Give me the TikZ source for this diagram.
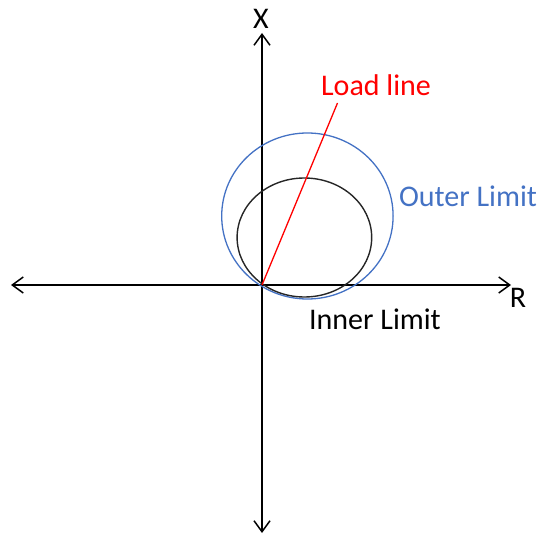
\documentclass[tikz,border=0pt]{standalone}
\usepackage{fontspec}
\setmainfont{Carlito}
\usepackage{xcolor}
\usepackage{tikz}
\usetikzlibrary{
  arrows.meta,
  positioning
}
\definecolor{limitblue}{RGB}{68,114,196}
\definecolor{loadred}{RGB}{255,0,0}
\tikzset{
  axisline/.style={
    {Straight Barb[length=11pt,width=16pt,line width=1.5pt]}-{Straight Barb[length=11pt,width=16pt,line width=1.5pt]},
    line width=1.4pt,
    draw=black
  },
  outerline/.style={draw=limitblue,line width=1.3pt},
  innerline/.style={draw=black!85,line width=1.4pt},
  loadline/.style={draw=loadred,line width=1.3pt},
  plotlabel/.style={
    inner sep=0pt,
    anchor=base,
    font=\fontsize{30}{36}\selectfont
  },
}

\begin{document}
\begin{tikzpicture}[x=1pt,y=-1pt]
  \useasboundingbox (0,0) rectangle (542,535);
  % axes
  \coordinate (origin) at (262,285);
  \coordinate (rmin) at (11,285);
  \coordinate (rmax) at (511,285);
  \coordinate (xmax) at (262,33);
  \coordinate (xmin) at (262,533);
  \draw[axisline] (rmin) -- (rmax);
  \draw[axisline] (xmin) -- (xmax);
  \node[plotlabel] (xlabel) at (261,29) {X};
  \node[plotlabel] (rlabel) at (518,308) {R};
  % limits
  \draw[outerline] (307.4,216) ellipse [x radius=85.7,y radius=83];
  \draw[innerline] (304.4,237.5) ellipse [x radius=67.3,y radius=59.5];
  % load line
  \coordinate (loadend) at (337.5,103);
  \draw[loadline] (origin) -- (loadend);
  \node[plotlabel,text=loadred] (load) at (376,96) {Load line};
  \node[plotlabel,text=limitblue] (outer) at (468,207) {Outer Limit};
  \node[plotlabel] (inner) at (375,329) {Inner Limit};
\end{tikzpicture}
\end{document}
